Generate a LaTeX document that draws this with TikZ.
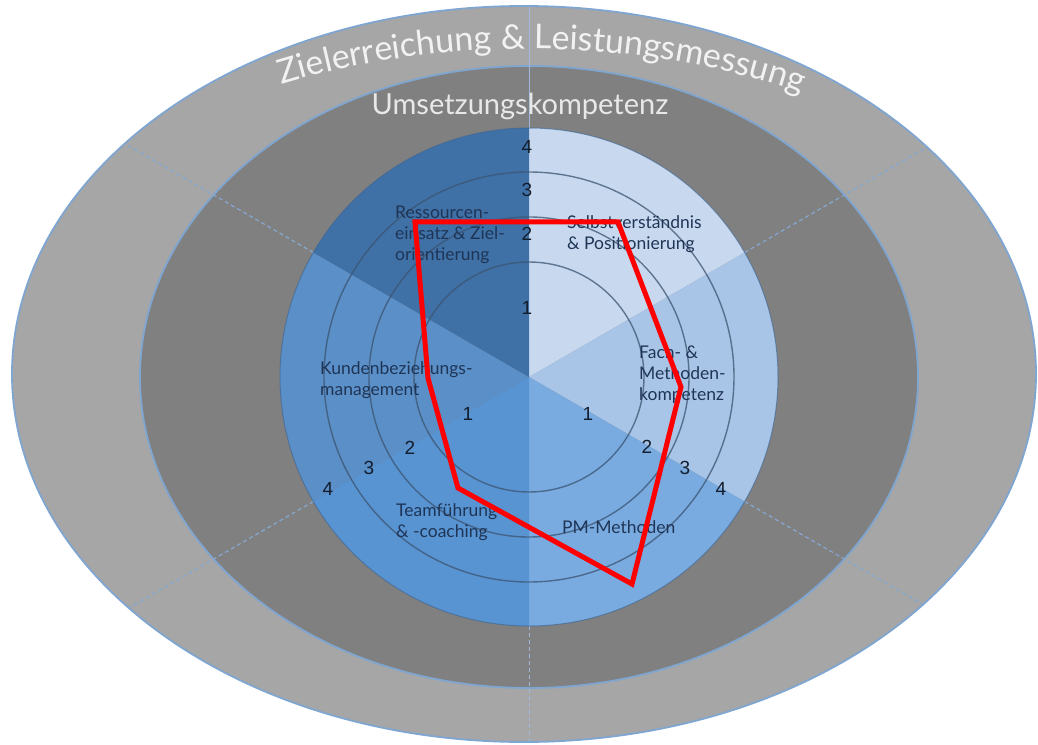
\documentclass[tikz,border=0pt]{standalone}
\usepackage{fontspec}
\setmainfont{Lato}
\newfontfamily\numfont{Liberation Sans}
\usetikzlibrary{decorations.text}
\definecolor{outergray}{HTML}{A6A6A6}
\definecolor{midgray}{HTML}{808080}
\definecolor{ringedge}{HTML}{7FA5D1}
\definecolor{spokecol}{HTML}{86A8D0}
\definecolor{cSelbst}{HTML}{C8D9EF}
\definecolor{cFach}{HTML}{A8C4E7}
\definecolor{cPM}{HTML}{79ABE0}
\definecolor{cTeam}{HTML}{5893D2}
\definecolor{cKunden}{HTML}{5A8FC7}
\definecolor{cRess}{HTML}{3F70A6}
\definecolor{ringline}{HTML}{3C5470}
\definecolor{diskedge}{HTML}{3D6593}
\definecolor{labcol}{HTML}{1F3556}
\definecolor{numcol}{HTML}{121D2E}
\definecolor{titlecol}{HTML}{F2F2F2}
\definecolor{umscol}{HTML}{E8E8E8}
\tikzset{
  spoke/.style={draw=spokecol, line width=1.2pt, dash pattern=on 4pt off 3pt},
  spokev/.style={draw=spokecol!80!white, line width=1pt},
  ringcircle/.style={draw=ringline, draw opacity=0.75, line width=1.4pt},
  lab/.style={anchor=base west, inner sep=0pt, align=left, text=labcol,
    font=\fontsize{17.5}{21}\selectfont},
  num/.style={inner sep=0pt, text=numcol, font=\numfont\fontsize{19}{19}\selectfont},
  radar/.style={draw=red, line width=5pt, line join=miter}
}
\begin{document}
\begin{tikzpicture}[x=1pt,y=1pt]
\useasboundingbox (-529,-367) rectangle (509,377);
\fill[white] (-529,-367) rectangle (509,377);
% outer rings
\draw[draw=ringedge, line width=1.8pt, fill=outergray] (-5,3) ellipse [x radius=512, y radius=368];
\draw[draw=ringedge, line width=1.8pt, fill=midgray] (0,0) ellipse [x radius=389, y radius=311];
% spokes
\begin{scope}
  \clip (-5,3) ellipse [x radius=511, y radius=367];
  \foreach \a in {30,150,210,330} \draw[spoke] (\a:249) -- (\a:620);
  \draw[spokev] (90:249) -- (90:620);
  \draw[spokev, dash pattern=on 4pt off 3pt] (270:249) -- (270:620);
\end{scope}
% sectors
\fill[cSelbst] (0,0) -- (30:249) arc[start angle=30, end angle=90, radius=249] -- cycle;
\fill[cFach] (0,0) -- (-30:249) arc[start angle=-30, end angle=30, radius=249] -- cycle;
\fill[cPM] (0,0) -- (-90:249) arc[start angle=-90, end angle=-30, radius=249] -- cycle;
\fill[cTeam] (0,0) -- (-150:249) arc[start angle=-150, end angle=-90, radius=249] -- cycle;
\fill[cKunden] (0,0) -- (150:249) arc[start angle=150, end angle=210, radius=249] -- cycle;
\fill[cRess] (0,0) -- (90:249) arc[start angle=90, end angle=150, radius=249] -- cycle;
\draw[diskedge, draw opacity=0.6, line width=1pt] (0,0) circle[radius=249];
% ring circles
\foreach \r in {115,160,205} \draw[ringcircle] (0,0) circle[radius=\r];
% titles
\path[decorate, decoration={text along path, text align=center,
  text={|\fontsize{34}{38}\selectfont\color{titlecol}|Zielerreichung {\&} Leistungsmessung}}]
  (-1,1) ++(148:545 and 327) arc[start angle=148, end angle=28, x radius=545, y radius=327];
\node[anchor=base, inner sep=0pt, text=umscol, font=\fontsize{29}{33}\selectfont] (umset) at (-9,262) {Umsetzungskompetenz};
% labels (anchor = baseline of last line)
\node[lab] (ress) at (-134,116) {Ressourcen-\\einsatz \& Ziel-\\orientierung};
\node[lab] (selbst) at (38,127) {Selbstverständnis\\\& Positionierung};
\node[lab] (fach) at (110,-23) {Fach- \&\\Methoden-\\kompetenz};
\node[lab] (kunden) at (-209,-18) {Kundenbeziehungs-\\management};
\node[lab] (team) at (-133,-160) {Teamführung\\\& -coaching};
\node[lab] (pm) at (33,-156) {PM-Methoden};
% numbers
\node[num] (t4) at (-2,230) {4};
\node[num] (t3) at (-2,187) {3};
\node[num] (t2) at (-2,143) {2};
\node[num] (t1) at (-2,69) {1};
\node[num] (l1) at (-61,-37) {1};
\node[num] (l2) at (-119,-71) {2};
\node[num] (l3) at (-160,-91) {3};
\node[num] (l4) at (-201,-112) {4};
\node[num] (r1) at (59,-37) {1};
\node[num] (r2) at (118,-70) {2};
\node[num] (r3) at (156,-91) {3};
\node[num] (r4) at (192,-112) {4};
% radar polygon
\coordinate (p1) at (-114,155);
\coordinate (p2) at (89,155);
\coordinate (p3) at (152,-10);
\coordinate (p4) at (103,-207);
\coordinate (p5) at (-71,-111);
\coordinate (p6) at (-101,-1);
\draw[radar] (p1) -- (p2) -- (p3) -- (p4) -- (p5) -- (p6) -- cycle;
\end{tikzpicture}
\end{document}
